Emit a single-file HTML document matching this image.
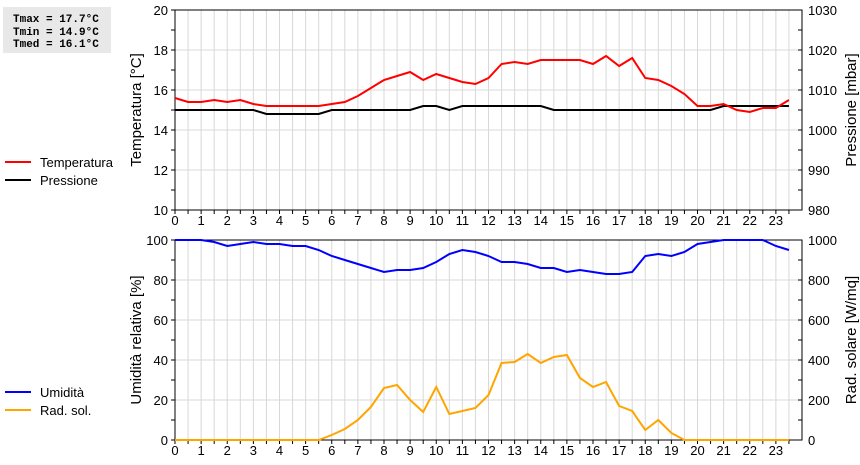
<!DOCTYPE html>
<html><head><meta charset="utf-8"><style>
body{margin:0;background:#fff;width:860px;height:460px;overflow:hidden;font-family:"Liberation Sans",sans-serif}
svg text{font-family:"Liberation Sans",sans-serif;font-size:13px;fill:#000}
</style></head><body>
<svg id="c" width="860" height="460" xmlns="http://www.w3.org/2000/svg">
<rect x="3" y="7" width="108" height="46" fill="#e8e8e8"/>
<g font-family="Liberation Mono" font-weight="bold">
<text x="13" y="22" style="font-family:'Liberation Mono',monospace;font-size:11px;font-weight:bold">Tmax = 17.7°C</text>
<text x="13" y="35" style="font-family:'Liberation Mono',monospace;font-size:11px;font-weight:bold">Tmin = 14.9°C</text>
<text x="13" y="47" style="font-family:'Liberation Mono',monospace;font-size:11px;font-weight:bold">Tmed = 16.1°C</text>
</g>
<g>
<line x1="5" y1="162" x2="31" y2="162" stroke="#f00" stroke-width="2"/><text x="40" y="167">Temperatura</text>
<line x1="5" y1="180" x2="31" y2="180" stroke="#000" stroke-width="2"/><text x="40" y="185">Pressione</text>
</g>
<g>
<line x1="5" y1="392" x2="31" y2="392" stroke="#00f" stroke-width="2"/><text x="40" y="397">Umidità</text>
<line x1="5" y1="410" x2="31" y2="410" stroke="#ffa500" stroke-width="2"/><text x="40" y="415">Rad. sol.</text>
</g>
<g id="g"></g>
</svg>
<script>
const hours=[0,0.5,1,1.5,2,2.5,3,3.5,4,4.5,5,5.5,6,6.5,7,7.5,8,8.5,9,9.5,10,10.5,11,11.5,12,12.5,13,13.5,14,14.5,15,15.5,16,16.5,17,17.5,18,18.5,19,19.5,20,20.5,21,21.5,22,22.5,23,23.5];
const temp=[15.6,15.4,15.4,15.5,15.4,15.5,15.3,15.2,15.2,15.2,15.2,15.2,15.3,15.4,15.7,16.1,16.5,16.7,16.9,16.5,16.8,16.6,16.4,16.3,16.6,17.3,17.4,17.3,17.5,17.5,17.5,17.5,17.3,17.7,17.2,17.6,16.6,16.5,16.2,15.8,15.2,15.2,15.3,15.0,14.9,15.1,15.1,15.5];
const press=[1005,1005,1005,1005,1005,1005,1005,1004,1004,1004,1004,1004,1005,1005,1005,1005,1005,1005,1005,1006,1006,1005,1006,1006,1006,1006,1006,1006,1006,1005,1005,1005,1005,1005,1005,1005,1005,1005,1005,1005,1005,1005,1006,1006,1006,1006,1006,1006];
const hum=[100,100,100,99,97,98,99,98,98,97,97,95,92,90,88,86,84,85,85,86,89,93,95,94,92,89,89,88,86,86,84,85,84,83,83,84,92,93,92,94,98,99,100,100,100,100,97,95];
const rad=[0,0,0,0,0,0,0,0,0,0,0,0,25,55,100,165,260,275,200,140,265,130,145,160,225,385,390,430,385,415,425,310,265,290,170,145,50,100,35,0,0,0,0,0,0,0,0,0];
const tTicks=[10,12,14,16,18,20],pTicks=[980,990,1000,1010,1020,1030],hTicks=[0,20,40,60,80,100],rTicks=[0,200,400,600,800,1000];
const NS="http://www.w3.org/2000/svg",G=document.getElementById('g');
const X0=175,X1=802;const x=h=>X0+h*(X1-X0)/24;
function el(t,a,p){const e=document.createElementNS(NS,t);for(const k in a)e.setAttribute(k,a[k]);(p||G).appendChild(e);return e;}
function panel(top,bot,lmin,lmax,rmin,rmax,lT,rT,ltitle,rtitle,nm){
 const yl=v=>bot-(v-lmin)/(lmax-lmin)*(bot-top),yr=v=>bot-(v-rmin)/(rmax-rmin)*(bot-top);
 const g=el('g',{});
 for(let i=0;i<=47;i++){const xx=x(i/2);el('line',{x1:xx,y1:top,x2:xx,y2:bot,stroke:'#d8d8d8'},g);el('line',{x1:xx,y1:bot,x2:xx,y2:bot+4,stroke:'#000'},g);}
 for(let i=0;i<lT.length;i++){const yy=yl(lT[i]);el('line',{x1:X0,y1:yy,x2:X1,y2:yy,stroke:'#d8d8d8'},g);
  const t=el('text',{x:168,y:yy+5,'text-anchor':'end'},g);t.textContent=lT[i];
  const t2=el('text',{x:808,y:yr(rT[i])+5},g);t2.textContent=rT[i];}
 for(let i=0;i<=10;i++){const yy=top+i*(bot-top)/10;el('line',{x1:X0-4,y1:yy,x2:X0,y2:yy,stroke:'#000'},g);el('line',{x1:X1-4,y1:yy,x2:X1,y2:yy,stroke:'#000'},g);}
 for(let h=0;h<=23;h++){const t=el('text',{x:x(h),y:bot+15,'text-anchor':'middle'},g);t.textContent=h;}
 el('rect',{x:X0,y:top,width:X1-X0,height:bot-top,fill:'none',stroke:'#000'},g);
 const a=el('text',{transform:`translate(141,${(top+bot)/2}) rotate(-90)`,'text-anchor':'middle',style:'font-size:15px'},g);a.textContent=ltitle;
 const b=el('text',{transform:`translate(856,${(top+bot)/2}) rotate(-90)`,'text-anchor':'middle',style:'font-size:15px'},g);b.textContent=rtitle;
 return {yl,yr,g};
}
function line(g,arr,f,col,nm){const p=el('polyline',{points:hours.map((h,i)=>x(h)+','+f(arr[i])).join(' '),fill:'none',stroke:col,'stroke-width':2},g);}
const P1=panel(10,210,10,20,980,1030,tTicks,pTicks,'Temperatura [°C]','Pressione [mbar]','temperature');
line(P1.g,press,P1.yr,'#000','pressure-line');line(P1.g,temp,P1.yl,'#f00','temperature-line');
const P2=panel(240,440,0,100,0,1000,hTicks,rTicks,'Umidità relativa [%]','Rad. solare [W/mq]','humidity');
line(P2.g,rad,P2.yr,'#ffa500','radiation-line');line(P2.g,hum,P2.yl,'#00f','humidity-line');
</script>
</body></html>
